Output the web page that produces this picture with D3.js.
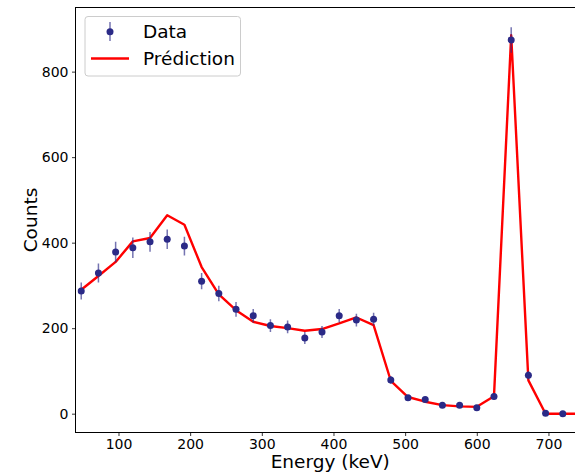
<!DOCTYPE html>
<html>
<head>
    <meta charset='utf-8'>
    <title>Energy spectrum</title>
    <style>
        body { margin: 0; background: #ffffff; }
        svg { display: block; font-family: 'DejaVu Sans', sans-serif; }
    </style>
</head>
<body>

    <svg width="575" height="473"></svg>

    <script src="https://cdn.jsdelivr.net/npm/d3@7/dist/d3.min.js"></script>
    <script>

        // bin centres (keV)
        const ENERGY = [48, 72, 96, 120, 144, 168, 192, 216, 240, 264, 288, 312, 336, 360, 384,
                        408, 432, 456, 480, 504, 528, 552, 576, 600, 624, 648, 672, 696, 720, 744];
        const COUNTS = [287, 329, 378, 388, 402, 408, 392, 310, 281, 244, 229, 206, 203, 177, 191,
                        229, 219, 221, 79, 37, 33, 20, 20, 14, 40, 874, 90, 1, 0, 0];
        const ERRORS = [20, 22, 24, 24, 23, 23, 22, 19, 18, 17, 16, 15, 15, 14, 14,
                        16, 15, 15, 9, 6, 6, 5, 5, 4, 7, 30, 10, 1, 1, 1];
        const PREDICTION = [290, 322, 355, 403, 411, 464, 442, 343, 279, 242, 215, 205, 200, 194, 198,
                            211, 225, 207, 77, 39, 28, 20, 17, 16, 41, 885, 78, 0, 0, 0];
        const X_TICKS = [100, 200, 300, 400, 500, 600, 700];
        const Y_TICKS = [0, 200, 400, 600, 800];

        const plotLeft = 75.5, plotRight = 585, plotTop = 7.5, plotBottom = 432.5;

        const xScale = d3.scaleLinear().domain([40, 751]).range([plotLeft, plotRight]);
        const yScale = d3.scaleLinear().domain([-44, 950]).range([plotBottom, plotTop]);

        const svg = d3.select('svg');

        svg.append('clipPath').attr('id', 'plot-clip')
            .append('rect')
            .attr('x', plotLeft).attr('y', plotTop)
            .attr('width', plotRight - plotLeft).attr('height', plotBottom - plotTop);

        // axes
        const xAxis = d3.axisBottom(xScale).tickValues(X_TICKS).tickSize(3.5).tickPadding(3.5).tickSizeOuter(0);
        const yAxis = d3.axisLeft(yScale).tickValues(Y_TICKS).tickSize(3.5).tickPadding(3.5).tickSizeOuter(0);

        const gx = svg.append('g')
            .attr('transform', `translate(0, ${plotBottom})`)
            .call(xAxis);
        const gy = svg.append('g')
            .attr('transform', `translate(${plotLeft}, 0)`)
            .call(yAxis);

        [gx, gy].forEach(g => {
            g.select('.domain').remove();
            g.selectAll('.tick line').attr('stroke', '#000').attr('stroke-width', 0.8);
            g.selectAll('.tick text')
                .attr('fill', '#000')
                .style('font-family', "'DejaVu Sans', sans-serif")
                .style('font-size', '14px');
        });

        // spines (the right one falls outside the picture)
        svg.append('rect')
            .attr('x', plotLeft).attr('y', plotTop)
            .attr('width', plotRight - plotLeft).attr('height', plotBottom - plotTop)
            .attr('fill', 'none')
            .attr('stroke', '#000')
            .attr('stroke-width', 1);

        const plot = svg.append('g').attr('clip-path', 'url(#plot-clip)');

        // prediction line
        const line = d3.line()
            .x((d, i) => xScale(ENERGY[i]))
            .y(d => yScale(d));

        plot.append('path')
            .datum(PREDICTION)
            .attr('d', line)
            .attr('fill', 'none')
            .attr('stroke', '#ff0000')
            .attr('stroke-width', 2.4)
            .attr('stroke-linejoin', 'round');

        // data with error bars
        const points = plot.selectAll('.pt')
            .data(ENERGY.map((e, i) => ({e: e, c: COUNTS[i], err: ERRORS[i]})))
            .enter()
            .append('g')
            .classed('pt', true);

        points.append('line')
            .attr('x1', d => xScale(d.e)).attr('x2', d => xScale(d.e))
            .attr('y1', d => yScale(d.c - d.err)).attr('y2', d => yScale(d.c + d.err))
            .attr('stroke', '#2b2a87')
            .attr('stroke-opacity', 0.65)
            .attr('stroke-width', 1.5);

        points.append('circle')
            .attr('cx', d => xScale(d.e))
            .attr('cy', d => yScale(d.c))
            .attr('r', 3.5)
            .attr('fill', '#2b2a87');

        // axis labels
        svg.append('text')
            .attr('x', (plotLeft + plotRight) / 2)
            .attr('y', 468)
            .attr('text-anchor', 'middle')
            .style('font-size', '18.5px')
            .text('Energy (keV)');

        svg.append('text')
            .attr('transform', `translate(37, ${(plotTop + plotBottom) / 2}) rotate(-90)`)
            .attr('text-anchor', 'middle')
            .style('font-size', '18.5px')
            .text('Counts');

        // legend
        const legend = svg.append('g');
        legend.append('rect')
            .attr('x', 85).attr('y', 16.5)
            .attr('width', 155.5).attr('height', 59.5)
            .attr('rx', 3)
            .attr('fill', '#ffffff').attr('fill-opacity', 0.8)
            .attr('stroke', '#cccccc');

        legend.append('line')
            .attr('x1', 110).attr('x2', 110)
            .attr('y1', 22).attr('y2', 41)
            .attr('stroke', '#2b2a87').attr('stroke-opacity', 0.65).attr('stroke-width', 1.5);
        legend.append('circle')
            .attr('cx', 110).attr('cy', 31.7).attr('r', 3.5)
            .attr('fill', '#2b2a87');
        legend.append('line')
            .attr('x1', 91).attr('x2', 129)
            .attr('y1', 58.5).attr('y2', 58.5)
            .attr('stroke', '#ff0000').attr('stroke-width', 2.4);

        legend.append('text')
            .attr('x', 143).attr('y', 38)
            .style('font-size', '18.5px')
            .text('Data');
        legend.append('text')
            .attr('x', 143).attr('y', 65)
            .style('font-size', '18.5px')
            .text('Prédiction');

    </script>

</body>
</html>
